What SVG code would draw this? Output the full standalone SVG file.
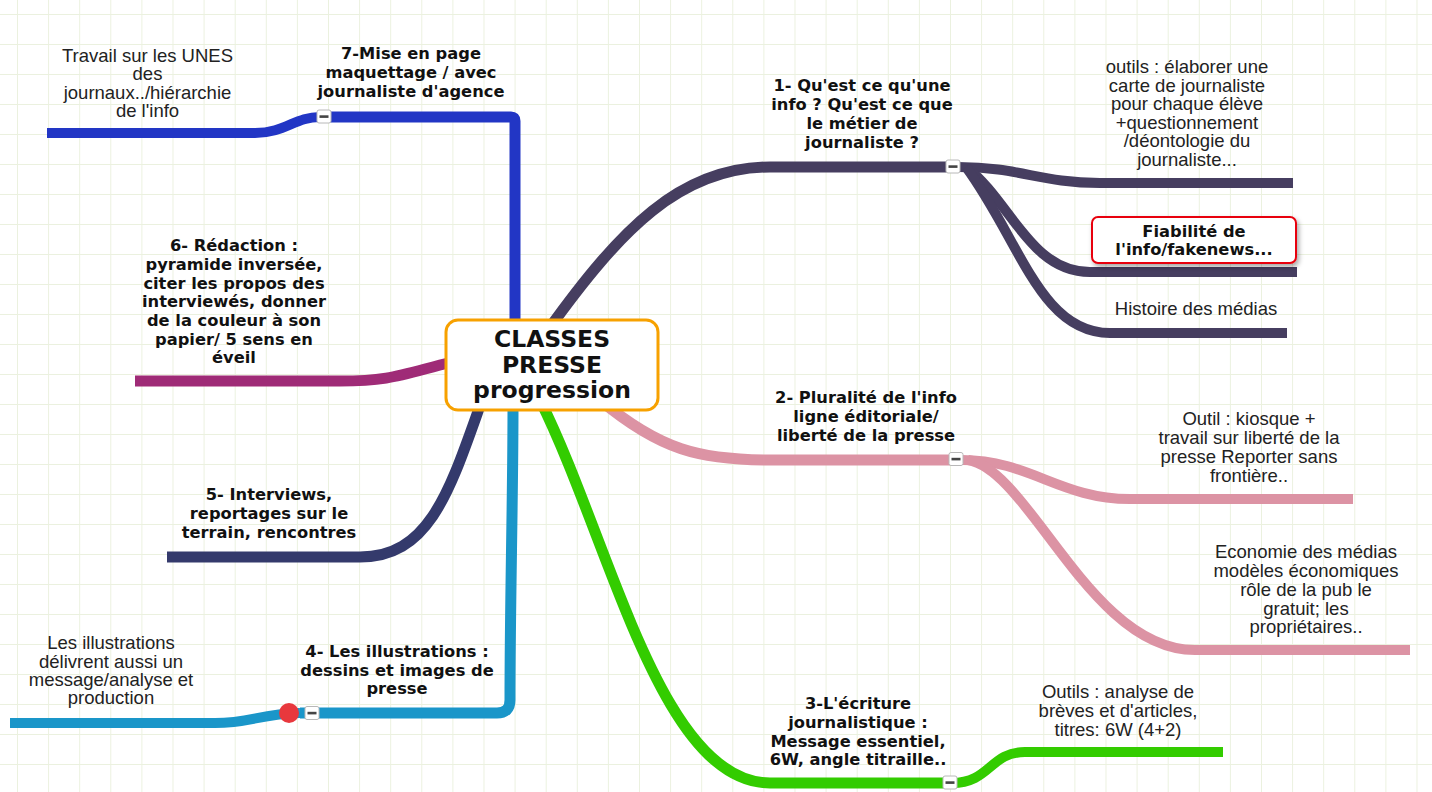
<svg xmlns="http://www.w3.org/2000/svg" width="1432" height="792" viewBox="0 0 1432 792">
<defs>
<pattern id="grid" patternUnits="userSpaceOnUse" x="17" y="14" width="31.1" height="30">
<path d="M0.5,0 V30 M0,0.5 H31.1" stroke="#ebf1df" stroke-width="1" fill="none"/>
</pattern>
<filter id="shadow" x="-10%" y="-20%" width="130%" height="160%">
<feDropShadow dx="2" dy="3" stdDeviation="2.5" flood-color="#000" flood-opacity="0.35"/>
</filter>
<g id="btn">
<rect x="-7" y="-6.5" width="14" height="13" rx="2" fill="#fff" stroke="#b8b8b8" stroke-width="1"/>
<rect x="-4.5" y="-1.2" width="9" height="2.6" fill="#444"/>
</g>
</defs>
<style>
.main{fill:none;stroke-width:11;stroke-linecap:butt}
.sub{fill:none;stroke-width:10;stroke-linecap:butt}
.b{font-family:"DejaVu Sans",sans-serif;font-weight:bold;font-size:16.3px;fill:#111;text-anchor:middle}
.n{font-family:"Liberation Sans",Arial,sans-serif;font-size:18.5px;fill:#222;text-anchor:middle}
.c{font-family:"DejaVu Sans",sans-serif;font-weight:bold;font-size:23.5px;fill:#111;text-anchor:middle}
</style>
<rect x="0" y="0" width="1432" height="792" fill="#fff"/>
<rect x="0" y="0" width="1432" height="792" fill="url(#grid)"/>

<g id="connectors">
<path class="main" stroke="#463e60" d="M548,330 C620,230 680,167 770,167 L953,167"/>
<path class="sub" stroke="#463e60" d="M958,167 C1020,167 1040,183 1100,183 L1293,183"/>
<path class="sub" stroke="#463e60" d="M966,167 C1010,200 1030,272 1090,272 L1297,272"/>
<path class="sub" stroke="#463e60" d="M966,167 C1020,240 1040,333 1110,333 L1287,333"/>
<path class="main" stroke="#dc93a4" d="M600,400 C660,450 700,460 770,460 L956,460"/>
<path class="sub" stroke="#dc93a4" d="M962,460 C1030,460 1060,499 1130,499 L1353,499"/>
<path class="sub" stroke="#dc93a4" d="M968,460 C1030,470 1090,650 1195,650 L1410,650"/>
<path class="main" stroke="#33cc00" d="M540,400 C610,540 660,783 770,783 L950,783"/>
<path class="sub" stroke="#33cc00" d="M952,783 C990,783 990,752 1025,752 L1223,752"/>
<path class="main" stroke="#1a96c9" d="M513,405 C513,500 510,600 510,700 Q510,713 497,713 L300,713"/>
<path class="sub" stroke="#1a96c9" d="M300,713 C260,714 250,723 215,723 L10,723"/>
<path class="main" stroke="#343a6c" d="M482,400 C450,490 430,557 360,557 L167,557"/>
<path class="main" stroke="#9f2b77" d="M452,362 C400,375 390,381 340,381 L135,381"/>
<path class="main" stroke="#2236c5" d="M515,325 L515,121 Q515,117 511,117 L324,117"/>
<path class="sub" stroke="#2236c5" d="M320,117 C295,117 285,133 255,133 L47,133"/>
</g>

<g id="center">
<rect x="446" y="320" width="212" height="90" rx="12" fill="#fff" stroke="#f7a100" stroke-width="3"/>
<text class="c" x="552" y="347">CLASSES</text>
<text class="c" x="552" y="373">PRESSE</text>
<text class="c" x="552" y="398">progression</text>
</g>

<g id="n1">
<text class="b"><tspan x="862" y="91">1- Qu'est ce qu'une</tspan><tspan x="862" y="110">info ? Qu'est ce que</tspan><tspan x="862" y="129">le métier de</tspan><tspan x="862" y="148">journaliste ?</tspan></text>
<use href="#btn" x="953" y="166.5"/>
</g>
<g id="n1a">
<text class="n"><tspan x="1187" y="73">outils : élaborer une</tspan><tspan x="1187" y="92">carte de journaliste</tspan><tspan x="1187" y="110">pour chaque élève</tspan><tspan x="1187" y="129">+questionnement</tspan><tspan x="1187" y="147">/déontologie du</tspan><tspan x="1187" y="166">journaliste...</tspan></text>
</g>
<g id="n1b">
<rect x="1092" y="217" width="204" height="46" rx="6" fill="#fff" stroke="#e8000b" stroke-width="2" filter="url(#shadow)"/>
<text class="b"><tspan x="1194" y="237">Fiabilité de</tspan><tspan x="1194" y="255">l'info/fakenews...</tspan></text>
</g>
<g id="n1c">
<text class="n" x="1196" y="315">Histoire des médias</text>
</g>

<g id="n2">
<text class="b"><tspan x="866" y="403">2- Pluralité de l'info</tspan><tspan x="866" y="422">ligne éditoriale/</tspan><tspan x="866" y="441">liberté de la presse</tspan></text>
<use href="#btn" x="956" y="459"/>
</g>
<g id="n2a">
<text class="n"><tspan x="1249" y="425">Outil : kiosque +</tspan><tspan x="1249" y="444">travail sur liberté de la</tspan><tspan x="1249" y="463">presse Reporter sans</tspan><tspan x="1249" y="481.5">frontière..</tspan></text>
</g>
<g id="n2b">
<text class="n"><tspan x="1306" y="558">Economie des médias</tspan><tspan x="1306" y="577">modèles économiques</tspan><tspan x="1306" y="596">rôle de la pub le</tspan><tspan x="1306" y="614.5">gratuit; les</tspan><tspan x="1306" y="633">propriétaires..</tspan></text>
</g>

<g id="n3">
<text class="b"><tspan x="858" y="709">3-L'écriture</tspan><tspan x="858" y="728">journalistique :</tspan><tspan x="858" y="746.5">Message essentiel,</tspan><tspan x="858" y="765">6W, angle titraille..</tspan></text>
<use href="#btn" x="950" y="782.5"/>
</g>
<g id="n3a">
<text class="n"><tspan x="1118" y="698">Outils : analyse de</tspan><tspan x="1118" y="717">brèves et d'articles,</tspan><tspan x="1118" y="736">titres: 6W (4+2)</tspan></text>
</g>

<g id="n4">
<text class="b"><tspan x="397" y="657">4- Les illustrations :</tspan><tspan x="397" y="676">dessins et images de</tspan><tspan x="397" y="694">presse</tspan></text>
<circle cx="289" cy="713" r="10" fill="#e8383d"/>
<use href="#btn" x="312" y="713"/>
</g>
<g id="n4a">
<text class="n"><tspan x="111" y="649">Les illustrations</tspan><tspan x="111" y="668">délivrent aussi un</tspan><tspan x="111" y="686">message/analyse et</tspan><tspan x="111" y="704">production</tspan></text>
</g>

<g id="n5">
<text class="b"><tspan x="269" y="500">5- Interviews,</tspan><tspan x="269" y="519">reportages sur le</tspan><tspan x="269" y="538">terrain, rencontres</tspan></text>
</g>

<g id="n6">
<text class="b"><tspan x="234" y="251">6- Rédaction :</tspan><tspan x="234" y="270">pyramide inversée,</tspan><tspan x="234" y="288.5">citer les propos des</tspan><tspan x="234" y="307">interviewés, donner</tspan><tspan x="234" y="326">de la couleur à son</tspan><tspan x="234" y="344.5">papier/ 5 sens en</tspan><tspan x="234" y="363">éveil</tspan></text>
</g>

<g id="n7">
<text class="b"><tspan x="411" y="59">7-Mise en page</tspan><tspan x="411" y="78">maquettage / avec</tspan><tspan x="411" y="97">journaliste d'agence</tspan></text>
<use href="#btn" x="324" y="116.5"/>
</g>
<g id="n7a">
<text class="n"><tspan x="147.5" y="62">Travail sur les UNES</tspan><tspan x="147.5" y="80">des</tspan><tspan x="147.5" y="99">journaux../hiérarchie</tspan><tspan x="147.5" y="117">de l'info</tspan></text>
</g>
</svg>
